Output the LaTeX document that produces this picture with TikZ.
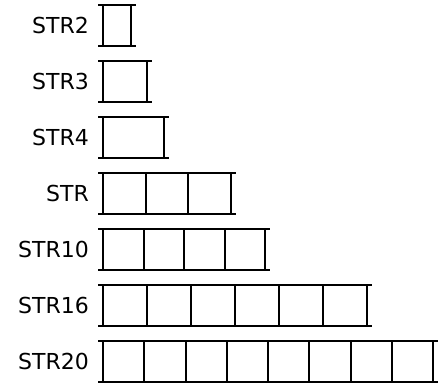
\documentclass[tikz,border=0pt]{standalone}
\usepackage{fontspec}
\setmainfont{DejaVu Sans}
\begin{document}
\begin{tikzpicture}[x=1pt,y=-1pt,
  lbl/.style={anchor=east,inner sep=0pt,font=\fontsize{22}{26}\selectfont},
  rail/.style={line width=2pt,black}]
\useasboundingbox (0,0) rectangle (448,386);
\foreach \i/\lab/\n/\w in {0/STR2/1/28, 1/STR3/1/44, 2/STR4/1/61, 3/STR/3/128, 4/STR10/4/162, 5/STR16/6/264, 6/STR20/8/330}{
  \pgfmathsetmacro\tp{5+56*\i}
  \pgfmathsetmacro\bt{\tp+41}
  \pgfmathsetmacro\len{\w+10}
  \node[lbl] (lab\i) at (89,\tp+20.5) {\lab};
  \draw[rail] (98,\tp) -- ++(\len,0);
  \draw[rail] (98,\bt) -- ++(\len,0);
  \foreach \k in {0,...,\n}{
    \pgfmathsetmacro\xx{103+\k*\w/\n}
    \draw[rail] (\xx,\tp) -- (\xx,\bt);
  }
}
\end{tikzpicture}
\end{document}
